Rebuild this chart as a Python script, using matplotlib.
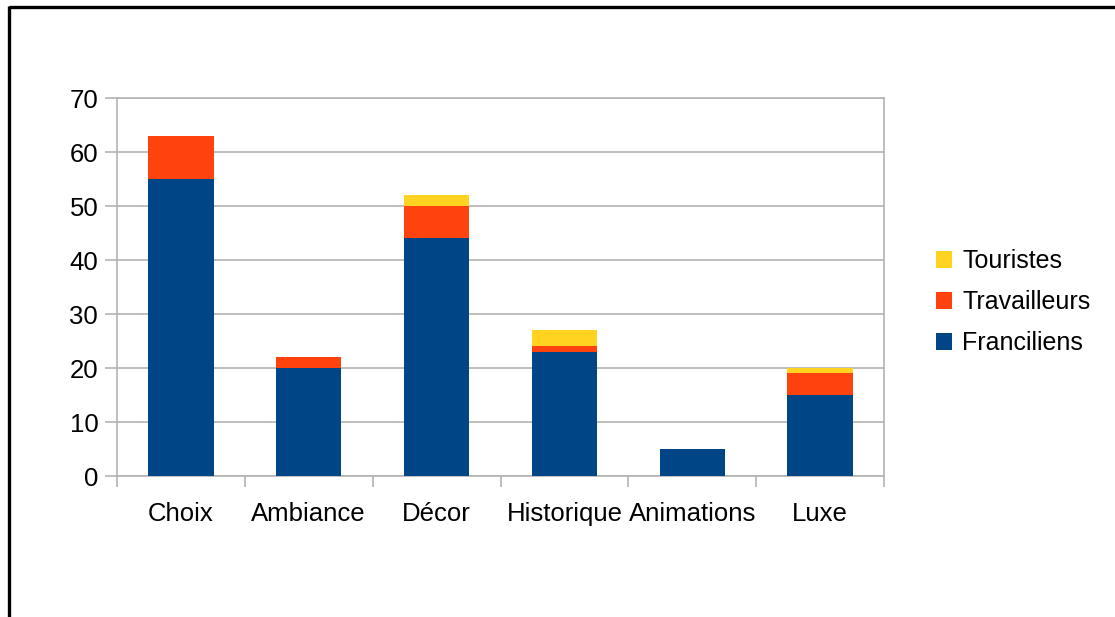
import matplotlib.pyplot as plt
from matplotlib.lines import Line2D
import numpy as np

plt.rcParams['font.family'] = ['Liberation Sans', 'DejaVu Sans']

categories = ["Choix", "Ambiance", "Décor", "Historique", "Animations", "Luxe"]
franciliens = [55, 20, 44, 23, 5, 15]
travailleurs = [8, 2, 6, 1, 0, 4]
touristes = [0, 0, 2, 3, 0, 1]

colors = {"Franciliens": "#004586", "Travailleurs": "#ff420e", "Touristes": "#ffd320"}
grid_color = "#b3b3b3"

W, H = 1115, 617
fig = plt.figure(figsize=(W / 100, H / 100), dpi=100)
ax = fig.add_axes([117 / W, (H - 476) / H, (884 - 117) / W, (476 - 98) / H])

x = np.arange(len(categories))
bw = 0.51
b1 = ax.bar(x, franciliens, width=bw, color=colors["Franciliens"], label="Franciliens", zorder=3)
b2 = ax.bar(x, travailleurs, width=bw, bottom=franciliens, color=colors["Travailleurs"],
            label="Travailleurs", zorder=3)
bottom2 = [a + b for a, b in zip(franciliens, travailleurs)]
b3 = ax.bar(x, touristes, width=bw, bottom=bottom2, color=colors["Touristes"],
            label="Touristes", zorder=3)

ax.set_xlim(-0.5, len(categories) - 0.5)
ax.set_ylim(0, 70)
ax.set_yticks(np.arange(0, 71, 10))
ax.yaxis.grid(True, color=grid_color, linewidth=1.2, zorder=0)
ax.set_axisbelow(True)

ax.set_xticks(x)
ax.set_xticklabels(categories, fontsize=18.5)
ax.set_xticks(np.arange(-0.5, len(categories)), minor=True)
ax.tick_params(axis='x', which='major', length=0, pad=18.5)
ax.tick_params(axis='x', which='minor', length=8, color=grid_color, width=1.2)
ax.tick_params(axis='y', labelsize=18.5, length=8.5, color=grid_color, width=1.2, pad=5)

for s in ax.spines.values():
    s.set_color(grid_color)
    s.set_linewidth(1.2)

ax.legend([b3, b2, b1], ["Touristes", "Travailleurs", "Franciliens"],
          loc='center left', bbox_to_anchor=(936 / W, 1 - 302 / H),
          bbox_transform=fig.transFigure, frameon=False, fontsize=18,
          borderpad=0, borderaxespad=0,
          handlelength=0.65, handleheight=0.65, handletextpad=0.4, labelspacing=0.68)

# cadre noir (haut et gauche)
fig.add_artist(Line2D([9 / W, 1], [1 - 7 / H, 1 - 7 / H], color='black', linewidth=2.4,
                      solid_capstyle='butt', transform=fig.transFigure))
fig.add_artist(Line2D([9 / W, 9 / W], [0, 1 - 6 / H], color='black', linewidth=2.4,
                      solid_capstyle='butt', transform=fig.transFigure))

fig.savefig("out.png", dpi=100)
